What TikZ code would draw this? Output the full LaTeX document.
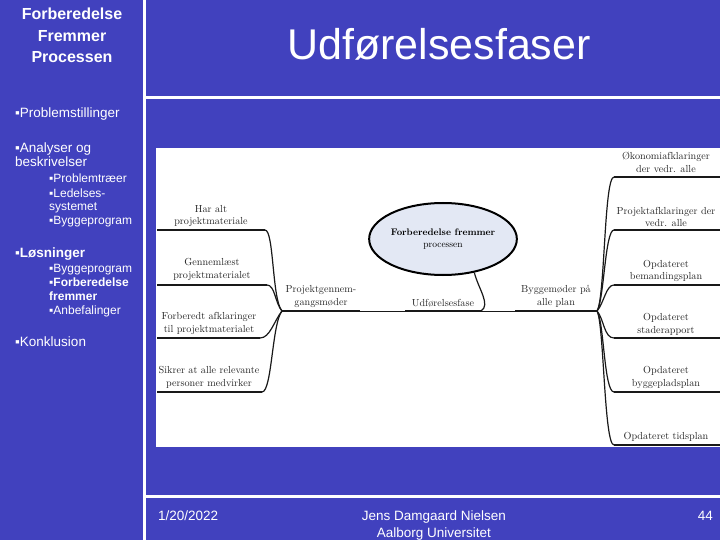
\documentclass[tikz,border=0pt]{standalone}
\usepackage{fontspec}
\usetikzlibrary{shapes.geometric}
\newfontfamily\arialf{Liberation Sans}
\definecolor{slideblue}{RGB}{65,65,190}
\definecolor{ellfill}{RGB}{227,232,244}
\tikzset{
  wline/.style={white, line width=3pt},
  hdr/.style={text=white, font=\arialf\bfseries\fontsize{16}{21.5}\selectfont, align=center, inner sep=0pt},
  itemA/.style={text=white, font=\arialf\fontsize{13.5}{15}\selectfont, anchor=base west, inner sep=0pt},
  itemB/.style={text=white, font=\arialf\fontsize{12}{14}\selectfont, anchor=base west, inner sep=0pt},
  foot/.style={text=white, font=\arialf\fontsize{13.5}{17}\selectfont, inner sep=0pt},
  lbl/.style={font=\fontsize{10.2}{12.5}\selectfont, align=center, text=black!85, inner sep=0pt},
  uline/.style={line width=2.6pt, black!90},
  branch/.style={line width=1.2pt, black!90},
  mainline/.style={line width=0.9pt, black!90}
}
\begin{document}
\begin{tikzpicture}[x=1pt,y=-1pt]
\fill[slideblue] (0,0) rectangle (720,540);
\useasboundingbox (0,0) rectangle (720,540);
% frame lines
\draw[wline] (144,0) -- (144,540);
\draw[wline] (144,98) -- (720,98);
\draw[wline] (144,496) -- (720,496);
% header texts
\node[hdr, anchor=base] (h1) at (72,20) {Forberedelse};
\node[hdr, anchor=base] (h2) at (72,42) {Fremmer};
\node[hdr, anchor=base] (h3) at (72,63) {Processen};
\node[text=white, font=\arialf\fontsize{43}{50}\selectfont, anchor=base, inner sep=0pt] (title) at (439,60) {Udførelsesfaser};
% left list
\node[itemA] (i1) at (15,118) {▪Problemstillinger};
\node[itemA] (i2) at (15,153) {▪Analyser og};
\node[itemA] (i3) at (15,167) {beskrivelser};
\node[itemB] (i4) at (49,183) {▪Problemtræer};
\node[itemB] (i5) at (49,197) {▪Ledelses-};
\node[itemB] (i6) at (49,211) {systemet};
\node[itemB] (i7) at (49,225) {▪Byggeprogram};
\node[itemA, font=\arialf\bfseries\fontsize{13.5}{15}\selectfont] (i8) at (15,257) {▪Løsninger};
\node[itemB] (i9) at (49,272) {▪Byggeprogram};
\node[itemB, font=\arialf\bfseries\fontsize{12}{14}\selectfont] (i10) at (49,286) {▪Forberedelse};
\node[itemB, font=\arialf\bfseries\fontsize{12}{14}\selectfont] (i11) at (49,300) {fremmer};
\node[itemB] (i12) at (49,314) {▪Anbefalinger};
\node[itemA] (i13) at (15,346) {▪Konklusion};
% footer
\node[foot, anchor=base west] (f1) at (158,520) {1/20/2022};
\node[foot, anchor=base, align=center] (f2) at (434,520) {Jens Damgaard Nielsen};
\node[foot, anchor=base, align=center] (f3) at (434,537) {Aalborg Universitet};
\node[foot, anchor=base east] (f4) at (713,520) {44};
% picture area
\fill[white] (156,148) rectangle (720,447);
% junctions
\coordinate (jl) at (282,311);
\coordinate (jr) at (597,311);
% central node
\node[ellipse, draw, line width=2pt, fill=ellfill, minimum width=120pt, minimum height=72pt, inner sep=0pt, align=center,
      font=\fontsize{9.5}{12.5}\selectfont] (c) at (443,239) {\textbf{Forberedelse fremmer}\\processen};
% main line
\coordinate (pge) at (360,311);
\coordinate (uds) at (405,311);
\coordinate (ude) at (481,311);
\coordinate (bms) at (515,311);
\draw[mainline] (jl) -- (jr);
\draw[uline] (jl) -- (pge);
\draw[uline] (uds) -- (ude);
\draw[uline] (bms) -- (jr);
\node[lbl] (pg) at (321,296.5) {Projektgennem-\\gangsmøder};
\node[lbl] (ud) at (443,303) {Udførelsesfase};
\node[lbl] (bm) at (556,296.5) {Byggemøder på\\alle plan};
\draw[branch] (c.-47) .. controls +(4,16) and +(10,-6) .. (ude);
% left children
\coordinate (l1s) at (157,230); \coordinate (l1e) at (265,230);
\coordinate (l2s) at (157,285); \coordinate (l2e) at (267,285);
\coordinate (l3s) at (157,338); \coordinate (l3e) at (260,338);
\coordinate (l4s) at (157,392); \coordinate (l4e) at (262,392);
\draw[uline] (l1s) -- (l1e);
\draw[uline] (l2s) -- (l2e);
\draw[uline] (l3s) -- (l3e);
\draw[uline] (l4s) -- (l4e);
\draw[branch] (l1e) .. controls +(9,0) and +(-10,-11) .. (jl);
\draw[branch] (l2e) .. controls +(8,0) and +(-7,-8) .. (jl);
\draw[branch] (l3e) .. controls +(10,0) and +(-8,10) .. (jl);
\draw[branch] (l4e) .. controls +(10,0) and +(-10,12) .. (jl);
\node[lbl] (l1) at (211,216) {Har alt\\projektmateriale};
\node[lbl] (l2) at (212,269.5) {Gennemlæst\\projektmaterialet};
\node[lbl] (l3) at (209,323.5) {Forberedt afklaringer\\til projektmaterialet};
\node[lbl] (l4) at (209,377.5) {Sikrer at alle relevante\\personer medvirker};
% right children
\coordinate (r1s) at (614,177); \coordinate (r1e) at (720,177);
\coordinate (r2s) at (614,230); \coordinate (r2e) at (720,230);
\coordinate (r3s) at (614,285); \coordinate (r3e) at (720,285);
\coordinate (r4s) at (614,338); \coordinate (r4e) at (720,338);
\coordinate (r5s) at (614,392); \coordinate (r5e) at (720,392);
\coordinate (r6s) at (614,445); \coordinate (r6e) at (720,445);
\draw[uline] (r1s) -- (r1e);
\draw[uline] (r2s) -- (r2e);
\draw[uline] (r3s) -- (r3e);
\draw[uline] (r4s) -- (r4e);
\draw[uline] (r5s) -- (r5e);
\draw[uline] (r6s) -- (r6e);
\draw[branch] (jr) .. controls +(8,-12) and +(-10,0) .. (r1s);
\draw[branch] (jr) .. controls +(7,-10) and +(-9,0) .. (r2s);
\draw[branch] (jr) .. controls +(7,-8) and +(-8,0) .. (r3s);
\draw[branch] (jr) .. controls +(7,8) and +(-10,0) .. (r4s);
\draw[branch] (jr) .. controls +(7,10) and +(-10,0) .. (r5s);
\draw[branch] (jr) .. controls +(7,12) and +(-10,0) .. (r6s);
\node[lbl] (r1) at (666,162.5) {Økonomiafklaringer\\der vedr. alle};
\node[lbl] (r2) at (666,217) {Projektafklaringer der\\vedr. alle};
\node[lbl] (r3) at (666,271) {Opdateret\\bemandingsplan};
\node[lbl] (r4) at (666,324.5) {Opdateret\\staderapport};
\node[lbl] (r5) at (666,377.5) {Opdateret\\byggepladsplan};
\node[lbl] (r6) at (666,437) {Opdateret tidsplan};
\end{tikzpicture}
\end{document}
